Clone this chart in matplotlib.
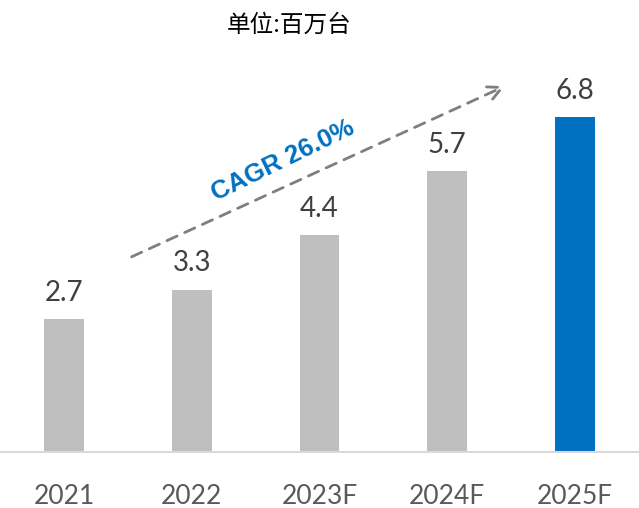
import matplotlib.pyplot as plt

# data
years = ["2021", "2022", "2023F", "2024F", "2025F"]
units = [2.7, 3.3, 4.4, 5.7, 6.8]
bar_colors = ["#BFBFBF", "#BFBFBF", "#BFBFBF", "#BFBFBF", "#0070C0"]
cagr_label = "CAGR 26.0%"

fig = plt.figure(figsize=(6.39, 5.08), dpi=100)
ax = fig.add_axes([0, 0.110, 1, 0.776])

x = range(len(years))
ax.bar(x, units, width=0.31, color=bar_colors)

# value labels above each bar
for i, v in enumerate(units):
    ax.annotate(f"{v:.1f}", (i, v), xytext=(0, 19), textcoords="offset points",
                ha="center", va="center", fontsize=20, family="Lato", color="#404040")

ax.set_xlim(-0.5, 4.5)
ax.set_ylim(0, 8)
ax.set_xticks(list(x))
ax.set_xticklabels(years, fontsize=19, family="Lato", color="#595959")
ax.tick_params(axis="x", length=0, pad=23)
ax.set_yticks([])

for s in ["top", "left", "right"]:
    ax.spines[s].set_visible(False)
ax.spines["bottom"].set_color("#D9D9D9")
ax.spines["bottom"].set_linewidth(1.5)

# dashed growth arrow
ax.annotate("", xy=(3.47, 7.45), xytext=(0.51, 3.94),
            arrowprops=dict(arrowstyle="->", color="#7F7F7F", lw=2,
                            linestyle=(0, (4, 3)), mutation_scale=25))
ax.text(1.71, 5.92, cagr_label, rotation=26, ha="center", va="center",
        fontsize=18.5, fontweight="bold", family="Liberation Sans", color="#0070C0")

fig.text(0.452, 0.951, "单位:百万台", ha="center", va="center", fontsize=17,
         family=["Noto Sans CJK SC", "DejaVu Sans"], color="#000000")

plt.savefig("out.png", dpi=100)
